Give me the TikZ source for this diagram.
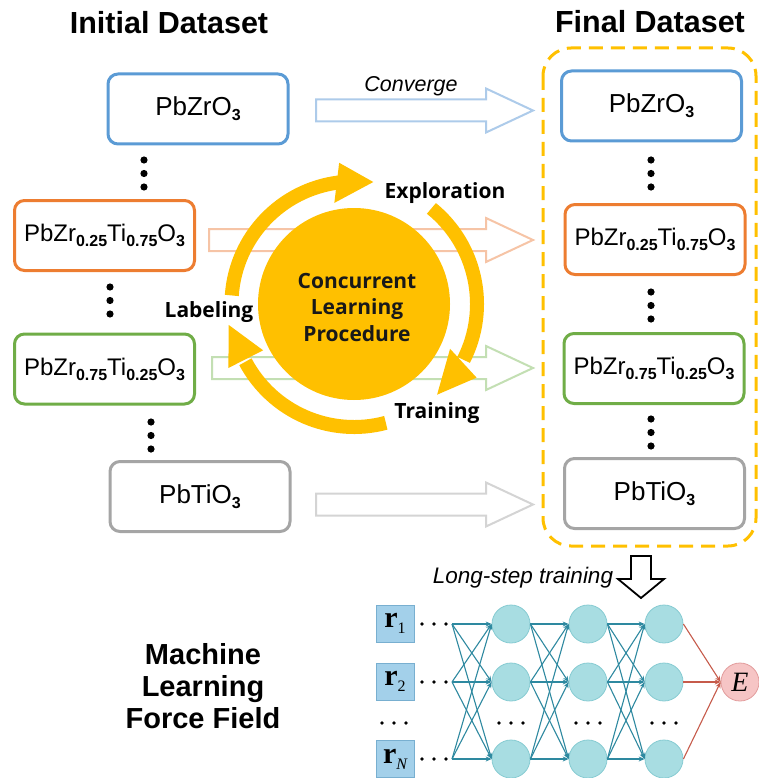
\documentclass[tikz,border=0pt]{standalone}
\usepackage[no-math]{fontspec}
\setmainfont{Liberation Sans}
\newfontfamily\notofont{Open Sans}
\newfontfamily\tnr{Liberation Serif}
\usetikzlibrary{arrows.meta}
\definecolor{cyel}{HTML}{FFC000}
\definecolor{cblue}{HTML}{5B9BD5}
\definecolor{corange}{HTML}{ED7D31}
\definecolor{cgreen}{HTML}{70AD47}
\definecolor{cgray}{HTML}{A5A5A5}
\definecolor{lblue}{HTML}{ADCBEA}
\definecolor{lorange}{HTML}{F6C4A6}
\definecolor{lgreen}{HTML}{C3DFB3}
\definecolor{lgray}{HTML}{D4D4D4}
\definecolor{nnteal}{HTML}{2E89A0}
\definecolor{nnred}{HTML}{C65B4B}
\definecolor{cellfill}{HTML}{A8DDE2}
\definecolor{celldraw}{HTML}{86CBD2}
\definecolor{inboxfill}{HTML}{A3D0EA}
\definecolor{inboxdraw}{HTML}{78AFD0}
\definecolor{efill}{HTML}{F6C5C5}
\definecolor{edraw}{HTML}{E29C9C}
\newcommand\sbs[1]{\raisebox{-5pt}{\fontsize{16}{16}\selectfont\bfseries #1}}
\newcommand\rvec[1]{{\tnr\bfseries r}\raisebox{-6pt}{\tnr\fontsize{16}{16}\selectfont #1}}
\newcommand\harrow[4]{\draw[draw=#1,line width=2,fill=white,line join=miter]
  (#2,{#4+11}) -- (486,{#4+11}) -- (486,{#4+22}) -- (#3,#4) -- (486,{#4-22})
  -- (486,{#4-11}) -- (#2,{#4-11}) -- cycle;}
\tikzset{
  dbox/.style={draw=#1,line width=3,rounded corners=10,fill=white,
    minimum width=180,minimum height=70,inner sep=0},
  simple/.style={font=\fontsize{26}{30}\selectfont},
  compound/.style={font=\fontsize{24}{28}\selectfont},
  title/.style={anchor=base,font=\fontsize{30.5}{36}\selectfont\bfseries},
  ital/.style={anchor=base,font=\fontsize{21.5}{26}\selectfont\itshape},
  cyclab/.style={anchor=base,font=\notofont\bfseries\fontsize{21}{26}\selectfont},
  ring/.style={draw=cyel,line width=14},
  cell/.style={circle,fill=cellfill,draw=celldraw,line width=0.8,minimum size=38,inner sep=0},
  inbox/.style={rectangle,fill=inboxfill,draw=inboxdraw,line width=0.8,
    minimum width=38,minimum height=37,inner sep=0,font=\fontsize{30}{30}\selectfont},
  nnarr/.style={nnteal,line width=1.1,-{Stealth[length=6,width=5]}},
  redarr/.style={nnred,line width=1.1,-{Stealth[length=6,width=5]}},
  dotc/.style={fill=black}
}
\begin{document}
\begin{tikzpicture}[x=1pt,y=1pt]
\useasboundingbox (0,0) rectangle (759,-778);

% titles
\node[title] (tinit) at (169,-34) {Initial Dataset};
\node[title] (tfinal) at (650,-33) {Final Dataset};

% hollow arrows (behind the cycle)
\harrow{lblue}{316}{533}{-110.5}
\harrow{lorange}{209}{533}{-240}
\harrow{lgreen}{212}{533}{-368}
\harrow{lgray}{316}{533}{-504.5}
\node[ital] (conv) at (411,-92) {Converge};

% left boxes
\node[dbox=cblue,simple] (bl) at (198,-109) {PbZrO\sbs{3}};
\node[dbox=corange,compound] (ol) at (104.5,-235.5) {PbZr\sbs{0.25}Ti\sbs{0.75}O\sbs{3}};
\node[dbox=cgreen,compound] (gl) at (104.5,-369) {PbZr\sbs{0.75}Ti\sbs{0.25}O\sbs{3}};
\node[dbox=cgray,simple] (grl) at (200,-496.5) {PbTiO\sbs{3}};

% right boxes
\node[dbox=cblue,simple] (br) at (651.5,-106) {PbZrO\sbs{3}};
\node[dbox=corange,compound] (or) at (655,-239.5) {PbZr\sbs{0.25}Ti\sbs{0.75}O\sbs{3}};
\node[dbox=cgreen,compound] (gr) at (654,-368.5) {PbZr\sbs{0.75}Ti\sbs{0.25}O\sbs{3}};
\node[dbox=cgray,simple] (grr) at (654.5,-493.5) {PbTiO\sbs{3}};

% dashed frame
\draw[cyel,line width=3,dash pattern=on 14 off 8,rounded corners=28]
  (543,-48) rectangle (756,-546);

% vertical dots
\foreach \x/\y in {144/160,110/287,151/422,651/160,651/292,651/419}{
  \foreach \k in {0,13.5,27}{\fill[dotc] (\x,{-\y-\k}) circle (3.6);}
}

% concurrent learning cycle
\node[circle,fill=cyel,minimum size=192,inner sep=0] (clp) at (354,-304) {};
\begin{scope}[shift={(354,-304)}]
  \draw[ring] (176:122.5) arc[start angle=176,end angle=97,radius=122.5];
  \fill[cyel] (96:142) -- (81:123.5) -- (101:103) -- cycle;
  \draw[ring] (51:123) arc[start angle=51,end angle=-27,radius=123];
  \fill[cyel] (-25:106) -- (-47.5:123) -- (-31:143) -- cycle;
  \draw[ring] (-75:123) arc[start angle=-75,end angle=-152,radius=123];
  \fill[cyel] (207:141) -- (189.5:127) -- (207:102) -- cycle;
\end{scope}
\node[align=center,font=\notofont\bfseries\fontsize{21}{26.5}\selectfont,
  text=black!90,anchor=base] (clptext) at (357,-341) {Concurrent\\Learning\\Procedure};
\node[cyclab] (expl) at (445,-198) {Exploration};
\node[cyclab] (lab) at (209,-317) {Labeling};
\node[cyclab] (train) at (437,-418) {Training};

% long-step training
\node[ital,font=\fontsize{22.5}{26}\selectfont\itshape] (lst) at (523,-583) {Long-step training};
\draw[black,line width=1.8,fill=white,line join=miter]
  (631,-556) -- (651,-556) -- (651,-579) -- (664,-579) -- (641,-598)
  -- (618,-579) -- (631,-579) -- cycle;

% machine learning force field
\node[align=center,font=\fontsize{29}{31.8}\selectfont\bfseries,anchor=base]
  (mlff) at (203,-728) {Machine\\Learning\\Force Field};

% neural network
\node[inbox] (r1) at (395,-623.5) {\rvec{1}};
\node[inbox] (r2) at (395,-681.5) {\rvec{2}};
\node[inbox] (r3) at (395,-759) {\rvec{\itshape N}};
\foreach \y in {624,682,759}{
  \foreach \x in {422,434,446}{\fill[dotc] (\x,-\y) circle (1.9);}
}
\foreach \x in {382,394,406}{\fill[dotc] (\x,-723) circle (1.9);}
\coordinate (in1) at (452,-624);
\coordinate (in2) at (452,-682);
\coordinate (in3) at (452,-759);
\foreach \n/\x in {a/511,b/588,c/664}{
  \node[cell] (\n1) at (\x,-624) {};
  \node[cell] (\n2) at (\x,-682) {};
  \node[cell] (\n3) at (\x,-759) {};
  \foreach \d in {-12,0,12}{\fill[dotc] ({\x+\d},-723) circle (1.9);}
}
\node[circle,fill=efill,draw=edraw,line width=0.8,minimum size=38,inner sep=0,
  font=\tnr\itshape\fontsize{28}{28}\selectfont] (E) at (740,-682) {E};
\foreach \i in {1,2,3}{
  \foreach \j in {1,2,3}{
    \draw[nnarr] (in\i) -- (a\j.west);
    \draw[nnarr] (a\i.east) -- (b\j.west);
    \draw[nnarr] (b\i.east) -- (c\j.west);
  }
  \draw[redarr] (c\i.east) -- (E.west);
}
\end{tikzpicture}
\end{document}
